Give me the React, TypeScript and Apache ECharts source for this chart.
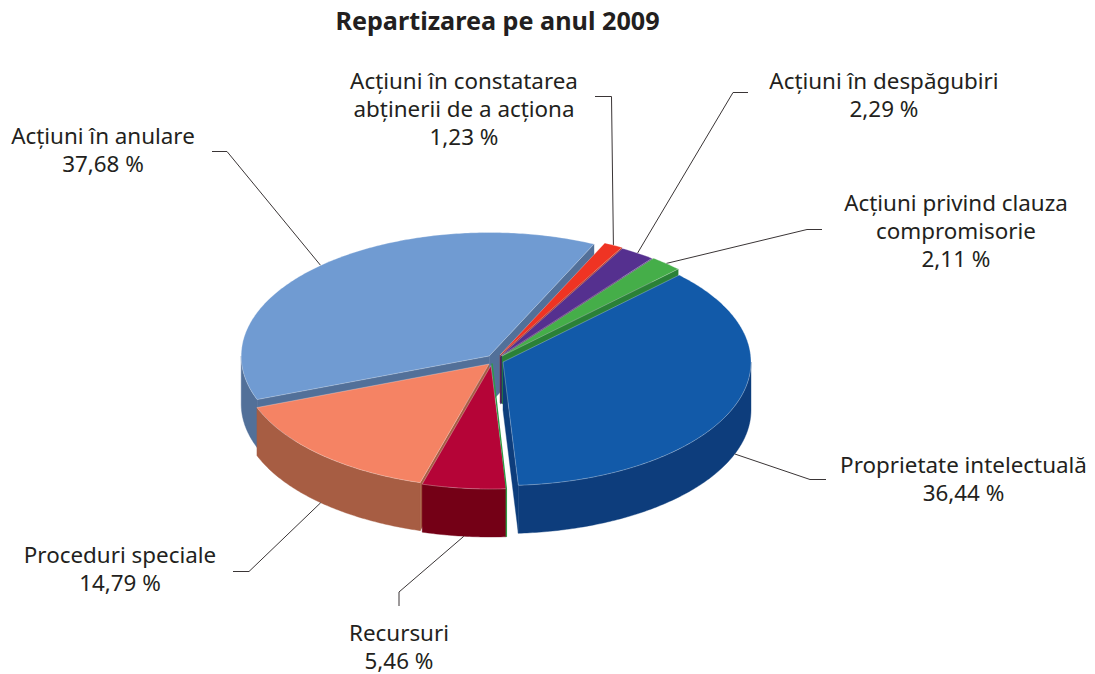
import React, { useEffect, useRef } from "react";
import * as echarts from "echarts";

const titleText = "Repartizarea pe anul 2009";
const categories = [
  "Acțiuni în constatarea\nabținerii de a acționa",
  "Acțiuni în despăgubiri",
  "Acțiuni privind clauza\ncompromisorie",
  "Proprietate intelectuală",
  "Recursuri",
  "Proceduri speciale",
  "Acțiuni în anulare",
];
const shares = [1.23, 2.29, 2.11, 36.44, 5.46, 14.79, 37.68];

// Layout of the drawing (not data)
const FONT = '"Noto Sans", sans-serif';
const START_ANGLE = 25;
const CX = 497, CY = 360, RX = 248, RY = 123.5, DEPTH = 48;
const explodeX = [3, 3.5, 5, 6, -6, -8, -7.8];
const explodeY = [-5, -4, -4, 2, 5.5, 4, -4];
const topColors = ["#ef3423", "#55308f", "#45ae49", "#125aa9", "#b50437", "#f58364", "#709bd2"];
const wallColors = ["#a52a1c", "#3a2166", "#2a8137", "#0d3d7c", "#740016", "#a75d43", "#527099"];
const paintOrder = [1, 2, 3, 4, 6, 5, 0];
const labelX = [464, 884, 956, 963.5, 399, 120, 103];
const labelY = [108.5, 94.5, 230.5, 478.5, 646, 568.5, 149.5];
const elbowX = [611.5, 733, 807, 810, 399, 249, 227];
const elbowY = [96.5, 92.5, 229.5, 479.5, 592, 571.5, 151.5];
const tailX = [595, 748, 822, 826, 399, 233, 212];
const tailY = [96.5, 92.5, 229.5, 479.5, 606, 571.5, 151.5];

const rad = (d: number) => (d * Math.PI) / 180;
const total = shares.reduce((a, b) => a + b, 0);
const boundaries: number[] = [];
shares.reduce((acc, v) => {
  boundaries.push(acc);
  return acc + (v / total) * 360;
}, START_ANGLE);

function renderSlice(params: any, api: any) {
  const i = params.dataIndex;
  const value = api.value(0);
  const a0 = boundaries[i];
  const a1 = a0 + (value / total) * 360;
  const ox = CX + explodeX[i];
  const oy = CY + explodeY[i];
  const P = (deg: number, z = 0): number[] => [
    ox + RX * Math.sin(rad(deg)),
    oy - RY * Math.cos(rad(deg)) + z,
  ];
  const apex = [ox, oy];
  const apexLow = [ox, oy + DEPTH];
  const z2 = paintOrder[i] * 10;
  const children: any[] = [];
  const poly = (points: number[][], fill: string, stroke: string, lineWidth: number, z: number) => ({
    type: "polygon",
    shape: { points },
    style: { fill, stroke, lineWidth },
    z2: z,
    silent: true,
  });
  const sn = (d: number) => Math.sin(rad(d));
  // end cut face
  if (sn(a1) > 0) {
    children.push(poly([apex, P(a1), P(a1, DEPTH), apexLow], wallColors[i], wallColors[i], 0.4, z2));
  }
  // start cut face
  if (sn(a0) < 0) {
    children.push(poly([apex, P(a0), P(a0, DEPTH), apexLow], wallColors[i], wallColors[i], 0.4, z2));
  }
  // outer wall
  const w0 = Math.max(a0, 90);
  const w1 = Math.min(a1, 270);
  if (w1 > w0) {
    const upper: number[][] = [];
    const lower: number[][] = [];
    const steps = Math.ceil((w1 - w0) * 1.5);
    for (let s = 0; s <= steps; s++) {
      const d = w0 + ((w1 - w0) * s) / steps;
      upper.push(P(d));
      lower.unshift(P(d, DEPTH));
    }
    children.push(poly(upper.concat(lower), wallColors[i], wallColors[i], 0.4, z2 + 1));
  }
  // top face
  const top: number[][] = [apex];
  const n = Math.max(2, Math.ceil((a1 - a0) * 1.5));
  for (let s = 0; s <= n; s++) top.push(P(a0 + ((a1 - a0) * s) / n));
  children.push(poly(top, topColors[i], "rgba(255,255,255,0.4)", 0.7, z2 + 2));

  // thin green edge running down the right-hand side of the narrow front slice
  if (a0 > 170 && a0 < 180) {
    children.push({
      type: "polyline",
      shape: { points: [[apex[0] + 1, apex[1] - 2], P(a0), P(a0, DEPTH)] },
      style: { stroke: "#2f9a45", lineWidth: 1.4, fill: "none" },
      z2: z2 + 3,
      silent: true,
    });
  }

  // leader line: starts on the rim at the slice's middle angle
  const mid = (a0 + a1) / 2;
  const front = Math.cos(rad(mid)) < 0;
  children.push({
    type: "polyline",
    shape: {
      points: [P(mid, front ? DEPTH : 0), [elbowX[i], elbowY[i]], [tailX[i], tailY[i]]],
    },
    style: { stroke: "#3a3536", lineWidth: 1, fill: "none" },
    z2: front ? 100 : 1,
    silent: true,
  });
  // label
  children.push({
    type: "text",
    style: {
      text: categories[i] + "\n" + value.toFixed(2).replace(".", ",") + " %",
      x: labelX[i],
      y: labelY[i],
      textAlign: "center",
      textVerticalAlign: "middle",
      font: `22.4px ${FONT}`,
      lineHeight: 28,
      fill: "#231f20",
    },
    z2: 200,
    silent: true,
  });
  return { type: "group", children };
}

export default function App() {
  const ref = useRef<HTMLDivElement>(null);
  useEffect(() => {
    document.body.style.margin = "0";
    const chart = echarts.init(ref.current!, null, { renderer: "svg" });
    chart.setOption({
      animation: false,
      backgroundColor: "#ffffff",
      title: {
        text: titleText,
        left: 492.5,
        top: 2,
        textAlign: "center",
        textStyle: { fontFamily: FONT, fontSize: 25.2, fontWeight: "bold", color: "#231f20" },
      },
      series: [
        {
          type: "custom",
          coordinateSystem: "none",
          renderItem: renderSlice,
          data: shares.map((v) => [v]),
          dimensions: ["share"],
          encode: { value: 0 },
          silent: true,
        },
      ],
    });
    return () => chart.dispose();
  }, []);
  return <div ref={ref} style={{ width: 1095, height: 674, display: "block" }} />;
}
